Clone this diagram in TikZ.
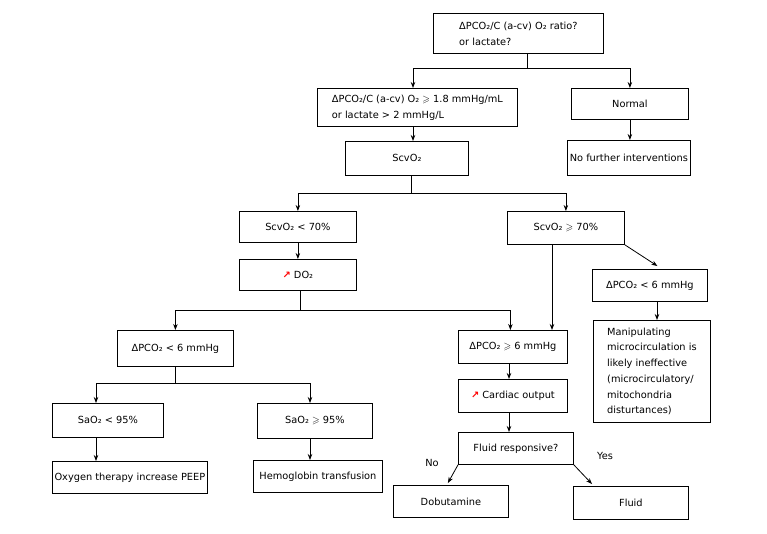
\documentclass[tikz,border=0pt]{standalone}
\usepackage{amssymb}
\usepackage{fontspec}
\setmainfont{DejaVu Sans}
\usetikzlibrary{arrows.meta,calc}
\newcommand{\geqs}{\ensuremath{\geqslant}}
\newcommand{\upar}{{\color{red}\bfseries ↗}}
\begin{document}
\begin{tikzpicture}[x=1pt,y=-1pt,
  box/.style={draw, line width=0.8pt, anchor=north west, inner sep=0pt, align=left,
    font=\fontsize{9.8}{16}\selectfont},
  lbl/.style={inner sep=0pt, font=\fontsize{9.8}{12}\selectfont},
  arr/.style={-{Stealth[length=6pt,width=4.5pt]}, line width=0.8pt},
  ln/.style={line width=0.8pt}]
\useasboundingbox (0,0) rectangle (767,533);
% nodes
\node[box, minimum width=170, minimum height=40] (b1) at (433,13) {ΔPCO₂/C (a-cv) O₂ ratio?\\or lactate?};
\node[box, minimum width=200, minimum height=38] (b2) at (317,88) {ΔPCO₂/C (a-cv) O₂ \geqs{} 1.8 mmHg/mL\\or lactate > 2 mmHg/L};
\node[box, minimum width=117, minimum height=31] (nm) at (571,88) {Normal};
\node[box, minimum width=123, minimum height=35] (nf) at (567,140) {No further interventions};
\node[box, minimum width=123, minimum height=34] (sc) at (345,141) {ScvO₂};
\node[box, minimum width=117, minimum height=31] (sl) at (239,211) {ScvO₂ < 70\%};
\node[box, minimum width=117, minimum height=33] (sh) at (507,211) {ScvO₂ \geqs{} 70\%};
\node[box, minimum width=117, minimum height=31] (do) at (239,259) {\upar{} DO₂};
\node[box, minimum width=115, minimum height=32] (dr) at (592,269) {ΔPCO₂ < 6 mmHg};
\node[box, minimum width=117, minimum height=102, font=\fontsize{9.8}{15.7}\selectfont] (mp) at (593,320) {Manipulating\\microcirculation is\\likely ineffective\\(microcirculatory/\\mitochondria\\disturtances)};
\node[box, minimum width=116, minimum height=36] (dl) at (117,330) {ΔPCO₂ < 6 mmHg};
\node[box, minimum width=109, minimum height=33] (dh) at (458,330) {ΔPCO₂ \geqs{} 6 mmHg};
\node[box, minimum width=109, minimum height=33] (co) at (458,379) {\upar{} Cardiac output};
\node[box, minimum width=115, minimum height=32] (fr) at (458,432) {Fluid responsive?};
\node[box, minimum width=115, minimum height=32] (db) at (393,485) {Dobutamine};
\node[box, minimum width=115, minimum height=33] (fl) at (573,486) {Fluid};
\node[box, minimum width=111, minimum height=34] (sa) at (52,403) {SaO₂ < 95\%};
\node[box, minimum width=115, minimum height=35] (sb) at (257,403) {SaO₂ \geqs{} 95\%};
\node[box, minimum width=155, minimum height=32] (ox) at (52,461) {Oxygen therapy increase PEEP};
\node[box, minimum width=129, minimum height=32] (hb) at (253,460) {Hemoglobin transfusion};
\node[lbl] (no) at (432,463) {No};
\node[lbl] (yes) at (605,456) {Yes};
% helper coordinates
\coordinate (x527) at (527,0);
\coordinate (x413) at (413,0);
\coordinate (x411) at (411,0);
\coordinate (x300) at (300,0);
\coordinate (x552) at (552,0);
\coordinate (x657) at (657,0);
\coordinate (x509) at (509,0);
\coordinate (x175) at (175,0);
\coordinate (x96) at (96,0);
\coordinate (x310) at (310,0);
\coordinate (y68) at (0,68);
\coordinate (y193) at (0,193);
\coordinate (y310) at (0,310);
\coordinate (y383) at (0,383);
% connectors
\draw[ln] (b1.south -| x527) -- (x527 |- y68);
\draw[arr] (x527 |- y68) -| (b2.north -| x413);
\draw[arr] (x527 |- y68) -| (nm.north);
\draw[arr] (b2.south -| x413) -- (sc.north -| x413);
\draw[arr] (nm.south) -- (nf.north -| nm.south);
\draw[ln] (sc.south -| x411) -- (x411 |- y193);
\draw[arr] (x411 |- y193) -| (sl.north);
\draw[arr] (x411 |- y193) -| (sh.north);
\draw[arr] (sl.south) -- (do.north);
\draw[ln] (do.south -| x300) -- (x300 |- y310);
\draw[arr] (x300 |- y310) -| (dl.north);
\draw[arr] (x300 |- y310) -| ($(dh.north)+(-2.5,0)$);
\draw[arr] (sh.south -| x552) -- (dh.north -| x552);
\draw[arr] (sh.south east) -- ($(dr.north)+(7.5,-3)$);
\draw[arr] (dr.south -| x657) -- (mp.north -| x657);
\draw[ln] (dl.south -| x175) -- (x175 |- y383);
\draw[arr] (x175 |- y383) -| (sa.north -| x96);
\draw[arr] (x175 |- y383) -| (sb.north -| x310);
\draw[arr] (sa.south -| x96) -- (ox.north -| x96);
\draw[arr] (sb.south -| x310) -- (hb.north -| x310);
\draw[arr] (dh.south -| x509) -- (co.north -| x509);
\draw[arr] (co.south -| x509) -- (fr.north -| x509);
\draw[arr] (fr.south west) -- ($(db.north)+(-3,-2)$);
\draw[arr] (fr.south east) -- ($(fl.north west)+(19,-2)$);
\end{tikzpicture}
\end{document}
